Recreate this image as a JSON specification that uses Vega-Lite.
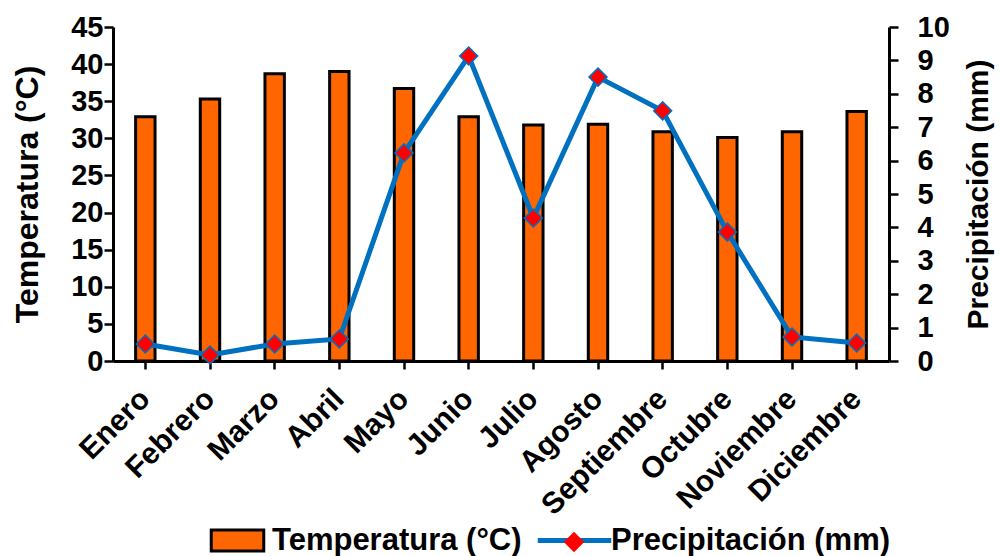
{
  "$schema": "https://vega.github.io/schema/vega-lite/v6.json",
  "width": 776,
  "height": 334,
  "autosize": {"type": "none"},
  "padding": {"left": 113, "top": 27, "right": 111, "bottom": 195},
  "background": "white",
  "config": {
    "view": {"stroke": null},
    "font": "Liberation Sans",
    "axis": {
      "grid": false,
      "domainColor": "black",
      "domainWidth": 3,
      "tickColor": "black",
      "tickWidth": 2.5,
      "labelColor": "black",
      "labelFont": "Liberation Sans",
      "labelFontWeight": "bold",
      "labelFontSize": 29,
      "titleColor": "black",
      "titleFont": "Liberation Sans",
      "titleFontWeight": "bold",
      "titleFontSize": 32
    },
    "legend": {
      "labelFont": "Liberation Sans",
      "labelFontWeight": "bold",
      "labelFontSize": 31,
      "labelColor": "black",
      "padding": 0,
      "labelLimit": 500
    }
  },
  "data": {
    "values": [
      {"mes": "Enero", "temp": 32.9, "prec": 0.51},
      {"mes": "Febrero", "temp": 35.3, "prec": 0.18},
      {"mes": "Marzo", "temp": 38.7, "prec": 0.51},
      {"mes": "Abril", "temp": 39.0, "prec": 0.66},
      {"mes": "Mayo", "temp": 36.7, "prec": 6.23},
      {"mes": "Junio", "temp": 32.9, "prec": 9.13},
      {"mes": "Julio", "temp": 31.8, "prec": 4.28},
      {"mes": "Agosto", "temp": 31.9, "prec": 8.5},
      {"mes": "Septiembre", "temp": 30.9, "prec": 7.49},
      {"mes": "Octubre", "temp": 30.1, "prec": 3.86},
      {"mes": "Noviembre", "temp": 30.9, "prec": 0.72},
      {"mes": "Diciembre", "temp": 33.6, "prec": 0.54}
    ]
  },
  "encoding": {
    "x": {
      "field": "mes",
      "type": "nominal",
      "sort": null,
      "scale": {"paddingInner": 0, "paddingOuter": 0},
      "axis": {
        "title": null,
        "labelAngle": -45,
        "labelAlign": "right",
        "labelBaseline": "middle",
        "labelFontSize": 30,
        "tickSize": 8,
        "labelPadding": 25
      }
    }
  },
  "layer": [
    {
      "mark": {"type": "bar", "stroke": "black", "strokeWidth": 3, "width": {"band": 0.3}},
      "encoding": {
        "y": {
          "field": "temp",
          "type": "quantitative",
          "scale": {"domain": [0, 45], "nice": false},
          "axis": {
            "title": "Temperatura (°C)",
            "values": [0, 5, 10, 15, 20, 25, 30, 35, 40, 45],
            "tickSize": 9,
            "labelPadding": 1,
            "titlePadding": 26
          }
        },
        "fill": {
          "datum": "Temperatura (°C)",
          "type": "nominal",
          "scale": {"range": ["#FF6600"]},
          "legend": {
            "orient": "none",
            "legendX": 109,
            "legendY": 498,
            "title": null,
            "symbolType": "M-2.5,-1H2.5V1H-2.5Z",
            "symbolSize": 441,
            "symbolStrokeColor": "black",
            "symbolStrokeWidth": 3,
            "labelOffset": 19
          }
        }
      }
    },
    {
      "mark": {"type": "line", "strokeWidth": 5},
      "encoding": {
        "y": {
          "field": "prec",
          "type": "quantitative",
          "scale": {"domain": [0, 10], "nice": false},
          "axis": {
            "title": "Precipitación (mm)",
            "titleFontSize": 30,
            "orient": "right",
            "values": [0, 1, 2, 3, 4, 5, 6, 7, 8, 9, 10],
            "tickSize": 9,
            "labelPadding": 19,
            "titleAngle": -90,
            "titleBaseline": "top",
            "titlePadding": 14
          }
        },
        "stroke": {
          "datum": "Precipitación (mm)",
          "type": "nominal",
          "scale": {"range": ["#0070C0"]},
          "legend": {
            "orient": "none",
            "legendX": 446,
            "legendY": 498,
            "title": null,
            "symbolType": "M-3.5,0H3.5",
            "symbolSize": 441,
            "symbolStrokeWidth": 5,
            "symbolStrokeColor": "#0070C0",
            "labelOffset": 21
          }
        }
      }
    },
    {
      "mark": {"type": "point", "filled": true, "fill": "#FF0000", "stroke": "#0070C0", "strokeWidth": 1.5, "size": 324, "opacity": 1},
      "encoding": {
        "y": {
          "field": "prec",
          "type": "quantitative",
          "scale": {"domain": [0, 10], "nice": false},
          "axis": null
        },
        "shape": {
          "datum": "·",
          "type": "nominal",
          "scale": {"range": ["diamond"]},
          "legend": {
            "orient": "none",
            "legendX": 450,
            "legendY": 504,
            "title": null,
            "symbolSize": 420,
            "symbolFillColor": "#FF0000",
            "symbolStrokeColor": "#0070C0",
            "symbolStrokeWidth": 1.5,
            "labelExpr": "''",
            "labelFontSize": 10
          }
        }
      }
    }
  ],
  "resolve": {"scale": {"y": "independent"}}
}
